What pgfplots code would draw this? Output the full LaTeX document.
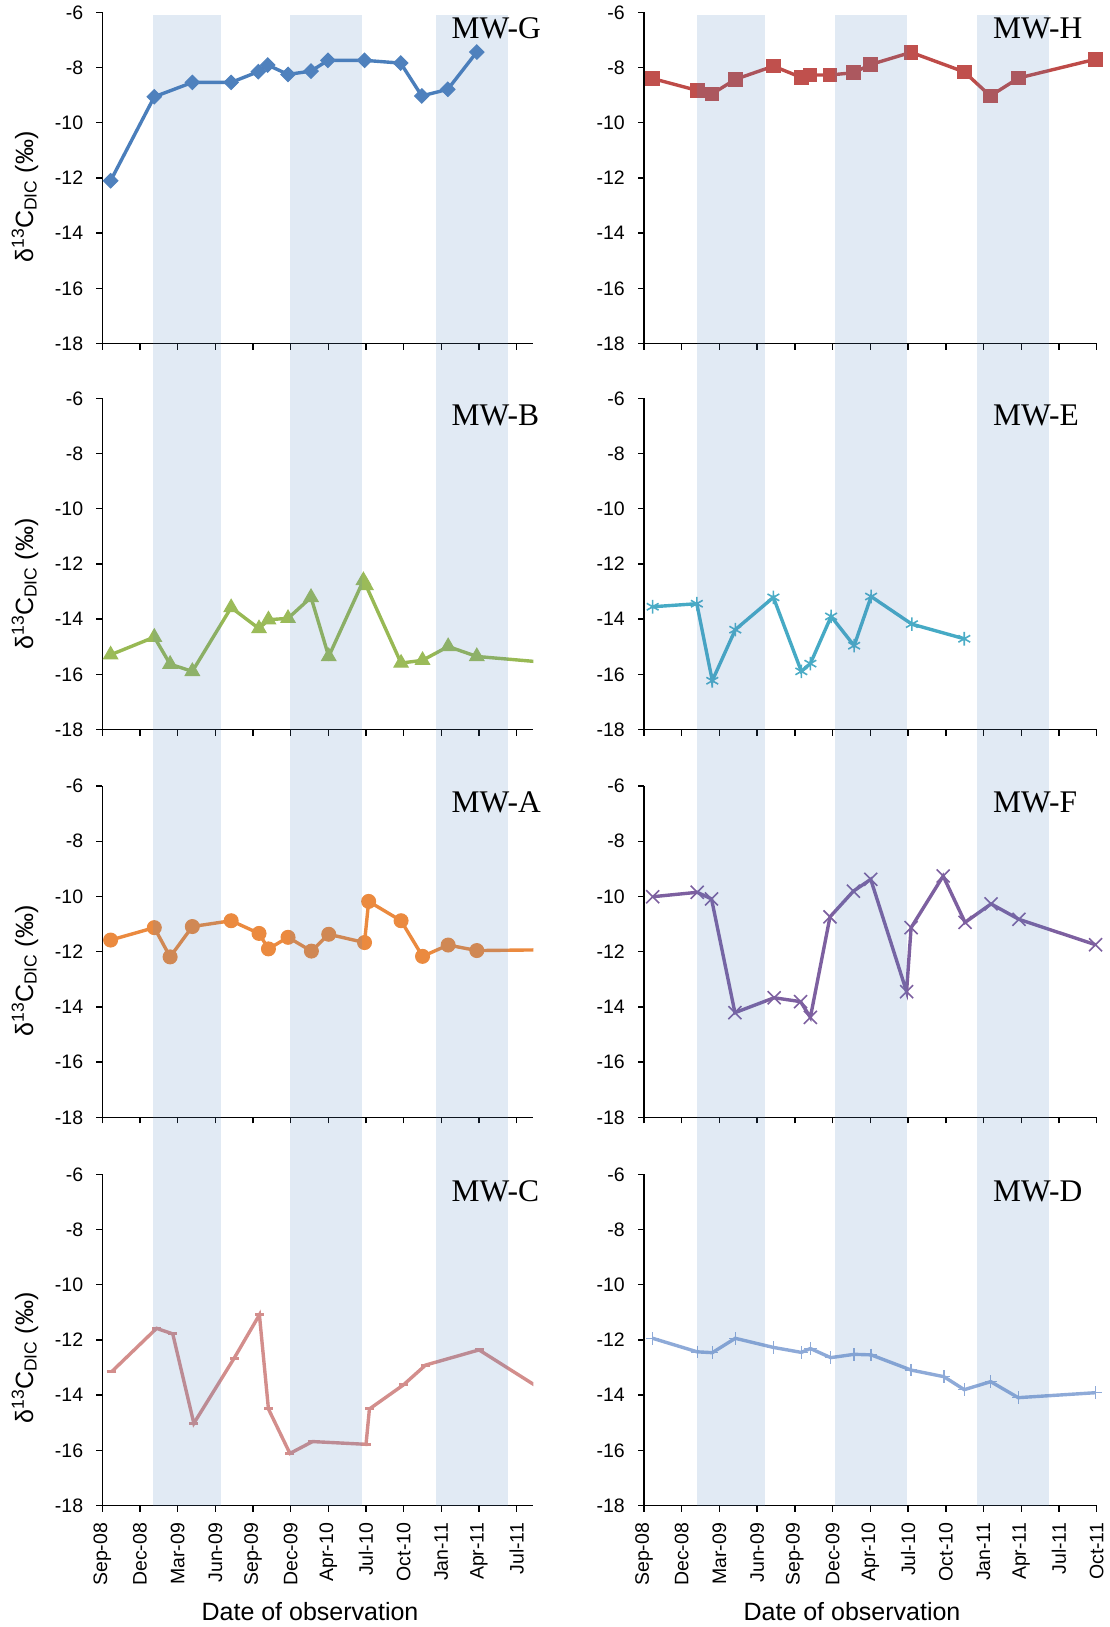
\documentclass[border=0pt]{standalone}
\usepackage{pgfplots}
\pgfplotsset{compat=1.18}
\usepackage{fontspec}
\setmainfont{Liberation Sans}
\newfontfamily\seriffont{Liberation Serif}

\definecolor{cGl}{HTML}{4A7EBB}\definecolor{cGm}{HTML}{4F81BD}
\definecolor{cHl}{HTML}{BE4B48}\definecolor{cHm}{HTML}{C0504D}
\definecolor{cBl}{HTML}{98B954}\definecolor{cBm}{HTML}{9BBB59}
\definecolor{cEl}{HTML}{46AAC5}\definecolor{cEm}{HTML}{4BACC6}
\definecolor{cAl}{HTML}{EB8A3F}\definecolor{cAm}{HTML}{EB8A3F}
\definecolor{cFl}{HTML}{7D60A0}\definecolor{cFm}{HTML}{7D60A0}
\definecolor{cCl}{HTML}{D38E8C}\definecolor{cCm}{HTML}{D38E8C}
\definecolor{cDl}{HTML}{8EAAD8}\definecolor{cDm}{HTML}{8EAAD8}
\definecolor{bandc}{HTML}{4F81BD}

\pgfplotsset{
  panel/.style={
    scale only axis, anchor=north west, height=331.3pt,
    ymin=-18, ymax=-6,
    ytick={-18,-16,-14,-12,-10,-8,-6},
    yticklabels={-18,-16,-14,-12,-10,-8,-6},
    axis x line=bottom, axis y line=left,
    axis line style={-, line width=1.6pt, black},
    tick style={black, line width=1.4pt},
    major tick length=6pt, tick align=outside,
    ticklabel style={font=\fontsize{19.5}{19.5}\selectfont},
    yticklabel style={anchor=east, inner sep=0pt},
    yticklabel shift=13pt,
    xticklabels={},
  },
  leftpanel/.style={panel, width=431pt, xmin=0, xmax=11.44, xtick={0,1,...,11}},
  rightpanel/.style={panel, width=452.7pt, xmin=0, xmax=12, xtick={0,1,...,12}},
  bottomrow/.style={
    xticklabel style={rotate=90, anchor=east, inner sep=0pt},
    xticklabel shift=11pt,
  },
  bandaxis/.style={hide axis, scale only axis, anchor=north west, height=1490.7pt, ymin=0, ymax=1, xmin=0},
}
\newcommand{\mwlabel}[2]{\node[anchor=base west, inner sep=0pt, font={\seriffont\fontsize{31.5}{31.5}\selectfont}] at ([xshift=349pt,yshift=-26.7pt]#1.north west) {#2};}
\newcommand{\ylab}[1]{\node[rotate=90, anchor=base, inner sep=0pt, font=\fontsize{25}{25}\selectfont] at (33pt,-#1pt) {δ\textsuperscript{13}C\textsubscript{DIC} (‰)};}

\begin{document}
\begin{tikzpicture}
\path[use as bounding box] (0pt,0pt) rectangle (1110pt,-1627pt);

% ---------------- Row 1
\begin{axis}[leftpanel, name=axG, at={(102.3pt,-12.3pt)}]
\addplot[cGl, line width=3.4pt, mark=square*, mark size=5.1pt, mark options={rotate=45, fill=cGm, draw=cGm, line width=1pt}] coordinates {
(0.221,-12.10) (1.38,-9.06) (2.39,-8.54) (3.42,-8.54) (4.14,-8.15) (4.39,-7.91) (4.93,-8.25) (5.54,-8.13) (5.99,-7.74) (6.96,-7.74) (7.92,-7.84) (8.48,-9.03) (9.17,-8.79) (9.94,-7.44)};
\end{axis}
\begin{axis}[rightpanel, name=axH, at={(644pt,-12.3pt)}]
\addplot[cHl, line width=3.4pt, mark=square*, mark size=6.8pt, mark options={fill=cHm, draw=cHm, line width=1pt}] coordinates {
(0.23,-8.40) (1.41,-8.83) (1.80,-8.96) (2.42,-8.43) (3.43,-7.95) (4.17,-8.36) (4.40,-8.27) (4.93,-8.27) (5.55,-8.19) (6.01,-7.89) (7.08,-7.45) (8.49,-8.16) (9.18,-9.03) (9.93,-8.38) (11.97,-7.70)};
\end{axis}

% ---------------- Row 2
\begin{axis}[leftpanel, name=axB, at={(102.3pt,-398.3pt)}]
\addplot[cBl, line width=3.4pt, mark=triangle*, mark size=8.3pt, mark options={fill=cBm, draw=cBm, line width=1pt}] coordinates {
(0.221,-15.29) (1.38,-14.65) (1.80,-15.63) (2.39,-15.89) (3.42,-13.58) (4.16,-14.34) (4.41,-14.02) (4.93,-13.97) (5.54,-13.21) (6.01,-15.35) (6.93,-12.60) (7.00,-12.78) (7.93,-15.59) (8.50,-15.49) (9.18,-14.99) (9.94,-15.35) (11.97,-15.59)};
\end{axis}
\begin{axis}[rightpanel, name=axE, at={(644pt,-398.3pt)}]
\addplot[cEl, line width=3.4pt, mark=asterisk, mark size=6.8pt, mark options={draw=cEm, line width=1.6pt}] coordinates {
(0.23,-13.55) (1.40,-13.44) (1.81,-16.23) (2.42,-14.38) (3.43,-13.21) (4.17,-15.89) (4.41,-15.61) (4.96,-13.90) (5.57,-14.96) (6.02,-13.18) (7.10,-14.18) (8.49,-14.71)};
\end{axis}

% ---------------- Row 3
\begin{axis}[leftpanel, name=axA, at={(102.3pt,-786pt)}]
\addplot[cAl, line width=3.4pt, mark=*, mark size=7pt, mark options={fill=cAm, draw=cAm, line width=1pt}] coordinates {
(0.221,-11.58) (1.38,-11.13) (1.80,-12.19) (2.39,-11.09) (3.42,-10.88) (4.16,-11.34) (4.41,-11.90) (4.93,-11.48) (5.55,-11.98) (6.01,-11.37) (6.96,-11.67) (7.07,-10.18) (7.93,-10.88) (8.50,-12.17) (9.18,-11.76) (9.94,-11.96) (11.97,-11.93)};
\end{axis}
\begin{axis}[rightpanel, name=axF, at={(644pt,-786pt)}]
\addplot[cFl, line width=3.4pt, mark=x, mark size=9.2pt, mark options={draw=cFm, line width=1.6pt}] coordinates {
(0.23,-10.01) (1.41,-9.85) (1.79,-10.09) (2.41,-14.21) (3.45,-13.67) (4.15,-13.81) (4.41,-14.38) (4.93,-10.74) (5.55,-9.81) (6.01,-9.38) (6.96,-13.45) (7.08,-11.13) (7.93,-9.26) (8.51,-10.94) (9.20,-10.27) (9.94,-10.83) (11.97,-11.75)};
\end{axis}

% ---------------- Row 4
\begin{axis}[leftpanel, bottomrow, name=axC, at={(102.3pt,-1174.3pt)},
  xticklabels={Sep-08,Dec-08,Mar-09,Jun-09,Sep-09,Dec-09,Apr-10,Jul-10,Oct-10,Jan-11,Apr-11,Jul-11}]
\addplot[cCl, line width=3.4pt, mark=-, mark size=4.5pt, mark options={draw=cCm, line width=3pt}] coordinates {
(0.248,-13.15) (1.44,-11.58) (1.87,-11.78) (2.43,-15.02) (3.50,-12.66) (4.17,-11.09) (4.41,-14.50) (4.98,-16.11) (5.58,-15.68) (7.00,-15.78) (7.09,-14.50) (7.99,-13.63) (8.58,-12.91) (10.00,-12.36) (11.97,-14.06)};
\end{axis}
\begin{axis}[rightpanel, bottomrow, name=axD, at={(644pt,-1174.3pt)},
  xticklabels={Sep-08,Dec-08,Mar-09,Jun-09,Sep-09,Dec-09,Apr-10,Jul-10,Oct-10,Jan-11,Apr-11,Jul-11,Oct-11}]
\addplot[cDl, line width=3.4pt, mark=+, mark size=6.2pt, mark options={draw=cDm, line width=1.4pt}] coordinates {
(0.23,-11.94) (1.41,-12.43) (1.81,-12.46) (2.42,-11.94) (3.43,-12.27) (4.17,-12.45) (4.41,-12.31) (4.95,-12.64) (5.57,-12.52) (6.02,-12.54) (7.08,-13.09) (7.95,-13.33) (8.49,-13.80) (9.19,-13.51) (9.92,-14.09) (11.97,-13.91)};
\end{axis}

% ---------------- shaded periods (overlay)
\begin{axis}[bandaxis, at={(102.3pt,-15pt)}, width=431pt, xmax=11.44]
\fill[bandc, fill opacity=0.17] (axis cs:1.354,0) rectangle (axis cs:3.142,1);
\fill[bandc, fill opacity=0.17] (axis cs:4.98,0) rectangle (axis cs:6.89,1);
\fill[bandc, fill opacity=0.17] (axis cs:8.86,0) rectangle (axis cs:10.77,1);
\end{axis}
\begin{axis}[bandaxis, at={(644pt,-15pt)}, width=452.7pt, xmax=12]
\fill[bandc, fill opacity=0.17] (axis cs:1.405,0) rectangle (axis cs:3.20,1);
\fill[bandc, fill opacity=0.17] (axis cs:5.06,0) rectangle (axis cs:6.96,1);
\fill[bandc, fill opacity=0.17] (axis cs:8.83,0) rectangle (axis cs:10.74,1);
\end{axis}

% ---------------- labels
\mwlabel{axG}{MW-G}
\mwlabel{axH}{MW-H}
\mwlabel{axB}{MW-B}
\mwlabel{axE}{MW-E}
\mwlabel{axA}{MW-A}
\mwlabel{axF}{MW-F}
\mwlabel{axC}{MW-C}
\mwlabel{axD}{MW-D}

\ylab{197}
\ylab{584}
\ylab{971}
\ylab{1358}

\node[anchor=base, inner sep=0pt, font=\fontsize{25}{25}\selectfont] at (310pt,-1620pt) {Date of observation};
\node[anchor=base, inner sep=0pt, font=\fontsize{25}{25}\selectfont] at (852pt,-1620pt) {Date of observation};
\end{tikzpicture}
\end{document}
